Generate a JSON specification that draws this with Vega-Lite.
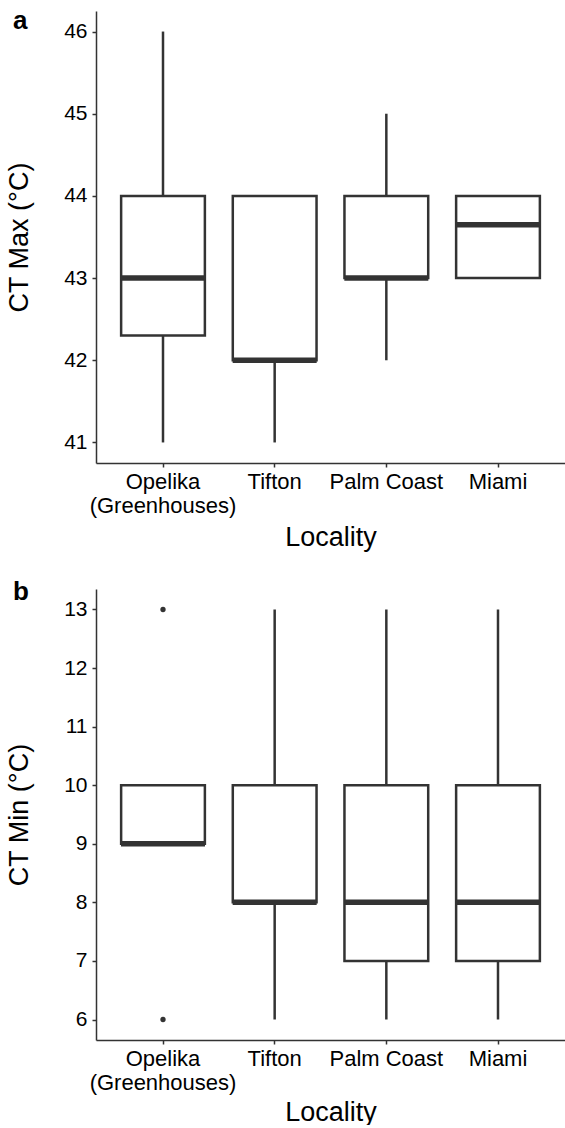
{
  "$schema": "https://vega.github.io/schema/vega-lite/v6.json",
  "padding": {"left": 5, "top": 8, "right": 0, "bottom": 0},
  "autosize": {"type": "pad"},
  "background": "white",
  "spacing": 29,
  "datasets": {
    "ctmax": [
      {"Locality": "Opelika (Greenhouses)", "lower": 41, "q1": 42.3, "median": 43, "q3": 44, "upper": 46},
      {"Locality": "Tifton", "lower": 41, "q1": 42, "median": 42, "q3": 44, "upper": 44},
      {"Locality": "Palm Coast", "lower": 42, "q1": 43, "median": 43, "q3": 44, "upper": 45},
      {"Locality": "Miami", "lower": 43, "q1": 43, "median": 43.65, "q3": 44, "upper": 44}
    ],
    "ctmin": [
      {"Locality": "Opelika (Greenhouses)", "lower": 9, "q1": 9, "median": 9, "q3": 10, "upper": 10},
      {"Locality": "Tifton", "lower": 6, "q1": 8, "median": 8, "q3": 10, "upper": 13},
      {"Locality": "Palm Coast", "lower": 6, "q1": 7, "median": 8, "q3": 10, "upper": 13},
      {"Locality": "Miami", "lower": 6, "q1": 7, "median": 8, "q3": 10, "upper": 13}
    ],
    "ctminOutliers": [
      {"Locality": "Opelika (Greenhouses)", "value": 13},
      {"Locality": "Opelika (Greenhouses)", "value": 6}
    ]
  },
  "config": {
    "view": {"stroke": null},
    "font": "Liberation Sans",
    "axis": {
      "grid": false,
      "domainColor": "#333333",
      "domainWidth": 1.5,
      "tickColor": "#333333",
      "tickWidth": 1.5,
      "tickSize": 4,
      "labelColor": "#000000",
      "titleColor": "#000000",
      "titleFontWeight": "normal",
      "labelFont": "Liberation Sans",
      "titleFont": "Liberation Sans"
    },
    "axisX": {"labelFontSize": 22, "labelAngle": 0, "labelPadding": 4, "titleFontSize": 27, "titlePadding": 8, "labelLineHeight": 24, "labelOverlap": false},
    "axisY": {"labelFontSize": 21, "labelPadding": 5, "titleFontSize": 27, "titlePadding": 30, "format": "d"},
    "title": {"anchor": "start", "frame": "group", "fontSize": 26, "fontWeight": "bold", "font": "Liberation Sans", "color": "#000000", "offset": 0, "dx": -83, "baseline": "alphabetic"}
  },
  "vconcat": [
    {
      "title": {"text": "a", "dy": 27},
      "width": 469,
      "height": 452,
      "data": {"name": "ctmax"},
      "encoding": {
        "x": {
          "field": "Locality", "type": "nominal",
          "sort": ["Opelika (Greenhouses)", "Tifton", "Palm Coast", "Miami"],
          "scale": {"paddingInner": 0, "paddingOuter": 0.1},
          "axis": {"title": "Locality", "labelExpr": "datum.value == 'Opelika (Greenhouses)' ? ['Opelika', '(Greenhouses)'] : datum.value"}
        }
      },
      "layer": [
        {
          "mark": {"type": "rule", "color": "#333333", "strokeWidth": 2.5},
          "encoding": {
            "y": {"field": "lower", "type": "quantitative", "scale": {"domain": [40.75, 46.25], "nice": false, "zero": false}, "axis": {"title": "CT Max (°C)", "values": [41, 42, 43, 44, 45, 46]}},
            "y2": {"field": "q1"}
          }
        },
        {
          "mark": {"type": "rule", "color": "#333333", "strokeWidth": 2.5},
          "encoding": {"y": {"field": "q3", "type": "quantitative"}, "y2": {"field": "upper"}}
        },
        {
          "mark": {"type": "bar", "fill": "white", "stroke": "#333333", "strokeWidth": 2.5, "width": {"band": 0.75}},
          "encoding": {"y": {"field": "q1", "type": "quantitative"}, "y2": {"field": "q3"}}
        },
        {
          "mark": {"type": "tick", "color": "#333333", "size": 84, "thickness": 5.5, "opacity": 1},
          "encoding": {"y": {"field": "median", "type": "quantitative"}}
        }
      ]
    },
    {
      "title": {"text": "b", "dy": 20},
      "width": 469,
      "height": 451,
      "encoding": {
        "x": {
          "field": "Locality", "type": "nominal",
          "sort": ["Opelika (Greenhouses)", "Tifton", "Palm Coast", "Miami"],
          "scale": {"paddingInner": 0, "paddingOuter": 0.1},
          "axis": {"title": "Locality", "titlePadding": 6, "labelExpr": "datum.value == 'Opelika (Greenhouses)' ? ['Opelika', '(Greenhouses)'] : datum.value"}
        }
      },
      "layer": [
        {
          "data": {"name": "ctmin"},
          "mark": {"type": "rule", "color": "#333333", "strokeWidth": 2.5},
          "encoding": {
            "y": {"field": "lower", "type": "quantitative", "scale": {"domain": [5.65, 13.35], "nice": false, "zero": false}, "axis": {"title": "CT Min (°C)", "values": [6, 7, 8, 9, 10, 11, 12, 13]}},
            "y2": {"field": "q1"}
          }
        },
        {
          "data": {"name": "ctmin"},
          "mark": {"type": "rule", "color": "#333333", "strokeWidth": 2.5},
          "encoding": {"y": {"field": "q3", "type": "quantitative"}, "y2": {"field": "upper"}}
        },
        {
          "data": {"name": "ctmin"},
          "mark": {"type": "bar", "fill": "white", "stroke": "#333333", "strokeWidth": 2.5, "width": {"band": 0.75}},
          "encoding": {"y": {"field": "q1", "type": "quantitative"}, "y2": {"field": "q3"}}
        },
        {
          "data": {"name": "ctmin"},
          "mark": {"type": "tick", "color": "#333333", "size": 84, "thickness": 5.5, "opacity": 1},
          "encoding": {"y": {"field": "median", "type": "quantitative"}}
        },
        {
          "data": {"name": "ctminOutliers"},
          "mark": {"type": "circle", "color": "#333333", "size": 28, "opacity": 1},
          "encoding": {"y": {"field": "value", "type": "quantitative"}}
        }
      ]
    }
  ]
}
